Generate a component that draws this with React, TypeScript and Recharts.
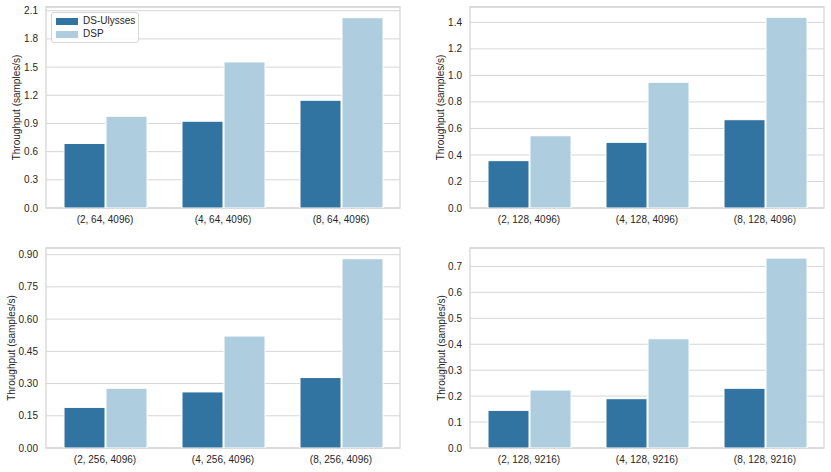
import React from "react";
import { BarChart, Bar, XAxis, YAxis, CartesianGrid, ReferenceArea, Legend } from "recharts";

const seriesNames = ["DS-Ulysses", "DSP"];
const seriesColors = ["#3274a1", "#aecddf"];

const categories1 = ["(2, 64, 4096)", "(4, 64, 4096)", "(8, 64, 4096)"];
const ulysses1 = [0.687, 0.924, 1.147];
const dsp1 = [0.977, 1.555, 2.026];
const ticks1 = [0, 0.3, 0.6, 0.9, 1.2, 1.5, 1.8, 2.1];
const max1 = 2.14;

const categories2 = ["(2, 128, 4096)", "(4, 128, 4096)", "(8, 128, 4096)"];
const ulysses2 = [0.357, 0.495, 0.666];
const dsp2 = [0.545, 0.948, 1.438];
const ticks2 = [0, 0.2, 0.4, 0.6, 0.8, 1.0, 1.2, 1.4];
const max2 = 1.516;

const categories3 = ["(2, 256, 4096)", "(4, 256, 4096)", "(8, 256, 4096)"];
const ulysses3 = [0.189, 0.261, 0.328];
const dsp3 = [0.278, 0.521, 0.881];
const ticks3 = [0, 0.15, 0.3, 0.45, 0.6, 0.75, 0.9];
const max3 = 0.931;

const categories4 = ["(2, 128, 9216)", "(4, 128, 9216)", "(8, 128, 9216)"];
const ulysses4 = [0.145, 0.19, 0.23];
const dsp4 = [0.2235, 0.421, 0.732];
const ticks4 = [0, 0.1, 0.2, 0.3, 0.4, 0.5, 0.6, 0.7];
const max4 = 0.771;

const FONT = '"Liberation Sans", Arial, sans-serif';
const TEXT = "#262626";
const GRID = "#d6d6d6";

function LegendBox(props: any) {
  const payload = (props && props.payload) || [];
  const items = seriesNames.map((n, i) => {
    const p = payload.find((q: any) => q.value === n);
    return { name: n, color: p ? p.color : seriesColors[i] };
  });
  return (
    <div
      style={{
        position: "relative",
        width: 86,
        height: 29,
        border: `1px solid ${GRID}`,
        borderRadius: 3,
        background: "rgba(255,255,255,0.85)",
        fontFamily: FONT,
        fontSize: 10,
        color: TEXT,
      }}
    >
      {items.map((it, i) => (
        <React.Fragment key={it.name}>
          <div
            style={{
              position: "absolute",
              left: 4,
              top: 4.5 + i * 13,
              width: 22,
              height: 7,
              background: it.color,
            }}
          />
          <div
            style={{
              position: "absolute",
              left: 31,
              top: 1.5 + i * 13,
              lineHeight: "12px",
              whiteSpace: "nowrap",
            }}
          >
            {it.name}
          </div>
        </React.Fragment>
      ))}
    </div>
  );
}

type PanelProps = {
  left: number;
  top: number;
  width: number;
  categories: string[];
  a: number[];
  b: number[];
  ticks: number[];
  max: number;
  decimals: number;
  yAxisWidth: number;
  marginTop: number;
  marginRight: number;
  xAxisHeight: number;
  labelX: number;
  showLegend?: boolean;
};

function Panel(p: PanelProps) {
  const data = p.categories.map((c, i) => ({ cat: c, u: p.a[i], d: p.b[i] }));
  const height = 236;
  const plotCenter = p.marginTop + (height - p.marginTop - p.xAxisHeight) / 2;
  return (
    <div style={{ position: "absolute", left: p.left, top: p.top, width: p.width, height }}>
      <BarChart
        width={p.width}
        height={height}
        data={data}
        margin={{ top: p.marginTop, right: p.marginRight, left: 0, bottom: 0 }}
        barCategoryGap={18}
        barGap={1}
        style={{ fontFamily: FONT }}
      >
        <CartesianGrid horizontal={true} vertical={false} stroke={GRID} strokeWidth={1} />
        <ReferenceArea y1={0} y2={p.max} fill="none" stroke={GRID} strokeWidth={1.3} ifOverflow="visible" />
        <XAxis
          dataKey="cat"
          tickLine={false}
          axisLine={false}
          height={p.xAxisHeight}
          interval={0}
          tick={{ fontSize: 10, fill: TEXT, fontFamily: FONT }}
        />
        <YAxis
          type="number"
          domain={[0, p.max]}
          ticks={p.ticks}
          allowDataOverflow
          tickFormatter={(v: number) => v.toFixed(p.decimals)}
          tickLine={false}
          axisLine={false}
          width={p.yAxisWidth}
          tick={{ fontSize: 10, fill: TEXT, fontFamily: FONT }}
          label={(lp: any) => {
            const vb = lp && lp.viewBox;
            const cy = vb && typeof vb.y === "number" ? vb.y + vb.height / 2 : plotCenter;
            return (
              <text
                transform={`translate(${p.labelX},${cy}) rotate(-90)`}
                textAnchor="middle"
                dominantBaseline="central"
                fontSize={10}
                fill={TEXT}
                fontFamily={FONT}
              >
                Throughput (samples/s)
              </text>
            );
          }}
        />
        {p.showLegend && (
          <Legend
            layout="vertical"
            align="center"
            verticalAlign="middle"
            content={LegendBox}
            wrapperStyle={{ position: "absolute", left: 51, top: 12, width: "auto", height: "auto" }}
          />
        )}
        <Bar dataKey="u" name={seriesNames[0]} fill={seriesColors[0]} stroke="#ffffff" strokeWidth={1} isAnimationActive={false} />
        <Bar dataKey="d" name={seriesNames[1]} fill={seriesColors[1]} stroke="#ffffff" strokeWidth={1} isAnimationActive={false} />
      </BarChart>
    </div>
  );
}

export default function App() {
  return (
    <div style={{ position: "absolute", left: 0, top: 0, width: 831, height: 472, background: "#ffffff" }}>
      <style>{"body{margin:0;background:#fff;}"}</style>
      <Panel
        left={0}
        top={0}
        width={415}
        categories={categories1}
        a={ulysses1}
        b={dsp1}
        ticks={ticks1}
        max={max1}
        decimals={1}
        yAxisWidth={46}
        marginTop={7}
        marginRight={15}
        xAxisHeight={28}
        labelX={16}
        showLegend
      />
      <Panel
        left={415}
        top={0}
        width={416}
        categories={categories2}
        a={ulysses2}
        b={dsp2}
        ticks={ticks2}
        max={max2}
        decimals={1}
        yAxisWidth={55}
        marginTop={7}
        marginRight={7}
        xAxisHeight={28}
        labelX={25}
      />
      <Panel
        left={0}
        top={236}
        width={415}
        categories={categories3}
        a={ulysses3}
        b={dsp3}
        ticks={ticks3}
        max={max3}
        decimals={2}
        yAxisWidth={46}
        marginTop={12}
        marginRight={15}
        xAxisHeight={24}
        labelX={11}
      />
      <Panel
        left={415}
        top={236}
        width={416}
        categories={categories4}
        a={ulysses4}
        b={dsp4}
        ticks={ticks4}
        max={max4}
        decimals={1}
        yAxisWidth={55}
        marginTop={12}
        marginRight={7}
        xAxisHeight={24}
        labelX={26}
      />
    </div>
  );
}
